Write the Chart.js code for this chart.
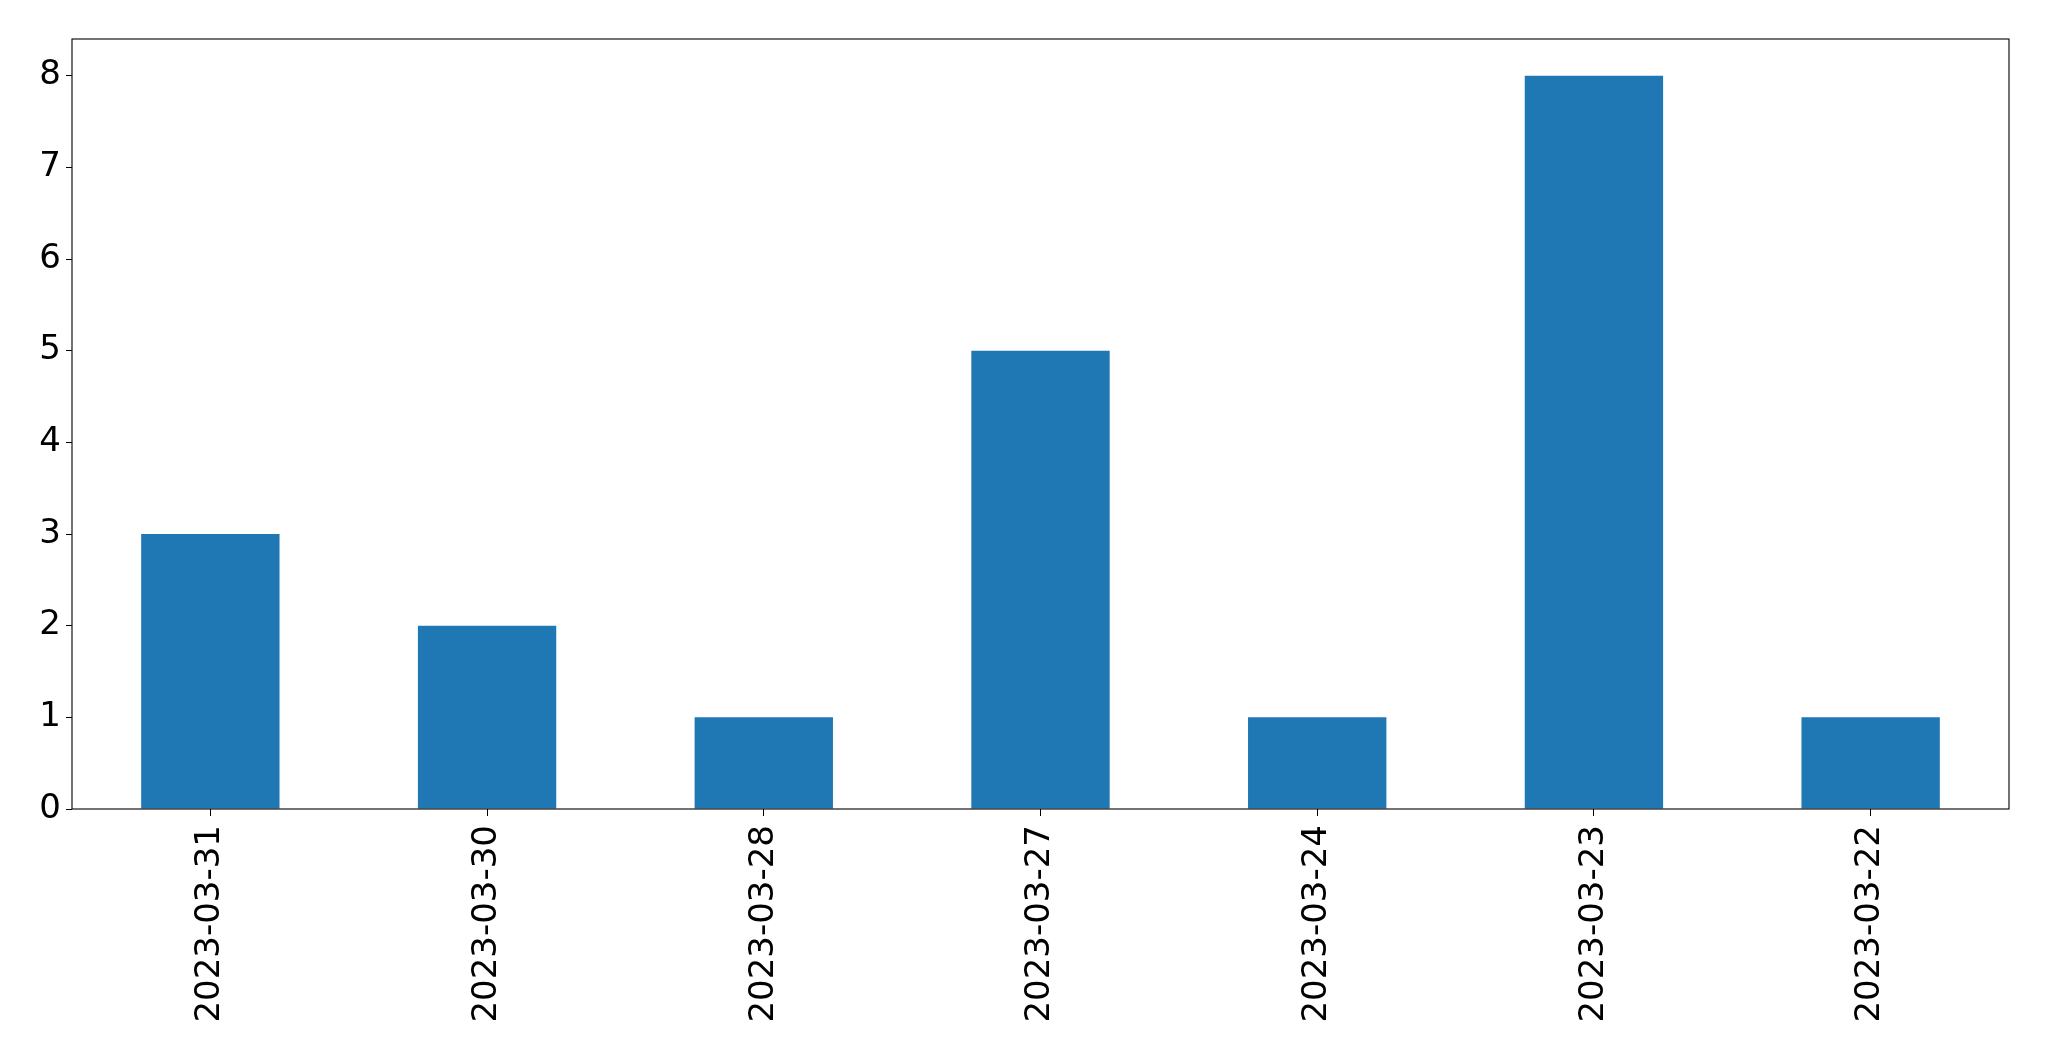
<!DOCTYPE html>
<html>
<head>
<meta charset="utf-8">
<script src="https://cdn.jsdelivr.net/npm/chart.js@4"></script>
<style>
    body { margin: 0; background: #fff; }
    canvas { display: block; }
</style>
</head>
<body>
<canvas id="barChart" width="2049" height="1061"></canvas>
<script>
const dates = ['2023-03-31', '2023-03-30', '2023-03-28', '2023-03-27', '2023-03-24', '2023-03-23', '2023-03-22'];
const counts = [3, 2, 1, 5, 1, 8, 1];
const yTicks = [0, 1, 2, 3, 4, 5, 6, 7, 8];

// matplotlib-style frame around the plot area
const framePlugin = {
    id: 'frame',
    afterDraw(chart) {
        const { ctx, chartArea } = chart;
        ctx.save();
        ctx.strokeStyle = '#000';
        ctx.lineWidth = 1.1;
        ctx.strokeRect(chartArea.left, chartArea.top, chartArea.right - chartArea.left, chartArea.bottom - chartArea.top);
        ctx.restore();
    }
};

const font = { family: 'DejaVu Sans', size: 34 };

new Chart(document.getElementById('barChart').getContext('2d'), {
    type: 'bar',
    data: {
        labels: dates,
        datasets: [{
            data: counts,
            backgroundColor: '#1f77b4',
            borderWidth: 0,
            barPercentage: 0.5,
            categoryPercentage: 1.0
        }]
    },
    options: {
        responsive: false,
        animation: false,
        layout: { padding: { top: 39, right: 40, left: 0, bottom: 0 } },
        plugins: {
            legend: { display: false },
            tooltip: { enabled: false }
        },
        scales: {
            x: {
                offset: true,
                grid: { display: true, drawOnChartArea: false, drawTicks: true, tickLength: 7, color: '#000', offset: false },
                border: { display: false },
                ticks: { color: '#000', font: font, minRotation: 90, maxRotation: 90, padding: 9, autoSkip: false },
                afterFit(scale) { scale.height = 252; }
            },
            y: {
                min: 0,
                max: 8.4,
                grid: { display: true, drawOnChartArea: false, drawTicks: true, tickLength: 6, color: '#000' },
                border: { display: false },
                ticks: { color: '#000', font: font, stepSize: 1, padding: 5 },
                afterBuildTicks(scale) {
                    scale.ticks = yTicks.map(v => ({ value: v }));
                },
                afterFit(scale) { scale.width = 72; }
            }
        }
    },
    plugins: [framePlugin]
});
</script>
</body>
</html>
